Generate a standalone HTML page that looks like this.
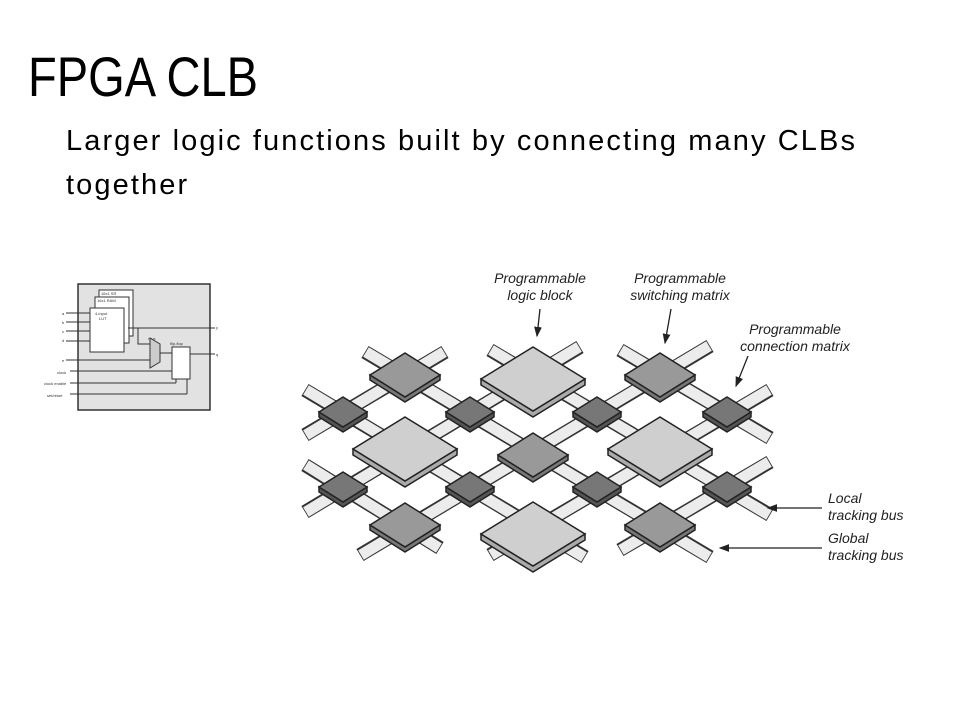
<!DOCTYPE html>
<html><head><meta charset="utf-8"><style>
body{margin:0;width:960px;height:720px;background:#fff;overflow:hidden;font-family:"Liberation Sans",sans-serif;position:relative}
.t{position:absolute;left:28px;top:44px;font-size:56px;color:#000;transform:scaleX(0.84);transform-origin:0 0}
.s{position:absolute;left:66px;top:119px;font-size:29px;line-height:44px;color:#000;letter-spacing:2.1px}
.l{position:absolute;font-size:14px;color:#222;line-height:17px;font-style:italic}
</style></head><body>
<div class="t">FPGA CLB</div>
<div class="s">Larger logic functions built by connecting many CLBs<br>together</div>
<svg width="960" height="720" style="position:absolute;left:0;top:0">
<defs>
<marker id="ar" markerWidth="8" markerHeight="8" refX="7" refY="4" orient="auto"><path d="M0,1 L8,4 L0,7z" fill="#222"/></marker>
</defs>
<rect x="78" y="284" width="132" height="126" fill="#e2e2e2" stroke="#333" stroke-width="1.5"/>
<rect x="99" y="290" width="34" height="46" fill="#fff" stroke="#333"/>
<rect x="95" y="297" width="34" height="46" fill="#fff" stroke="#333"/>
<rect x="90" y="308" width="34" height="44" fill="#fff" stroke="#333"/>
<g font-size="4" fill="#333"><text x="101" y="295">16x1 SR</text><text x="97" y="302">16x1 RAM</text><text x="95" y="315">4-input</text><text x="99" y="320">LUT</text><text x="148" y="340">mux</text><text x="170" y="345">flip-flop</text>
<text x="62" y="315">a</text><text x="62" y="324">b</text><text x="62" y="333">c</text><text x="62" y="342">d</text><text x="62" y="362">e</text><text x="57" y="374">clock</text><text x="44" y="385">clock enable</text><text x="47" y="397">set/reset</text><text x="216" y="329">y</text><text x="216" y="356">q</text></g>
<g stroke="#333" fill="none" stroke-width="1">
<line x1="66" y1="313" x2="90" y2="313"/><line x1="66" y1="322" x2="90" y2="322"/><line x1="66" y1="331" x2="90" y2="331"/><line x1="66" y1="341" x2="90" y2="341"/>
<line x1="128" y1="328" x2="215" y2="328"/><polyline points="138,328 138,344 150,344"/>
<line x1="66" y1="360" x2="150" y2="360"/>
<path d="M150,338 L160,344 L160,362 L150,368z" fill="#ccc"/>
<line x1="160" y1="353" x2="172" y2="353"/>
<rect x="172" y="347" width="18" height="32" fill="#fff"/>
<line x1="190" y1="354" x2="215" y2="354"/>
<line x1="70" y1="371" x2="172" y2="371"/><line x1="70" y1="383" x2="176" y2="383"/><polyline points="176,383 176,379"/><line x1="70" y1="394" x2="187" y2="394"/><polyline points="187,394 187,379"/>
</g>
<g stroke-linecap="butt">
<g stroke="#333" stroke-width="14">
<line x1="305" y1="435" x2="445" y2="352"/><line x1="305" y1="512" x2="580" y2="347"/><line x1="360" y1="555" x2="710" y2="346"/><line x1="490" y1="555" x2="770" y2="390"/><line x1="620" y1="550" x2="770" y2="462"/>
<line x1="305" y1="390" x2="585" y2="557"/><line x1="365" y1="352" x2="710" y2="557"/><line x1="490" y1="350" x2="770" y2="515"/><line x1="620" y1="350" x2="770" y2="438"/><line x1="305" y1="465" x2="440" y2="548"/>
</g>
<g stroke="#ececec" stroke-width="11">
<line x1="306" y1="435" x2="444" y2="352"/><line x1="306" y1="512" x2="579" y2="347"/><line x1="361" y1="555" x2="709" y2="346"/><line x1="491" y1="555" x2="769" y2="390"/><line x1="621" y1="550" x2="769" y2="462"/>
<line x1="306" y1="390" x2="584" y2="557"/><line x1="366" y1="352" x2="709" y2="557"/><line x1="491" y1="350" x2="769" y2="515"/><line x1="621" y1="350" x2="769" y2="438"/><line x1="306" y1="465" x2="439" y2="548"/>
</g></g>
<g stroke="#222" stroke-width="1.5">
<g fill="#aaa"><path d="M481,379 L533,411 L585,379 L585,385 L533,417 L481,385z"/><path d="M353,449 L405,481 L457,449 L457,455 L405,487 L353,455z"/><path d="M608,449 L660,481 L712,449 L712,455 L660,487 L608,455z"/><path d="M481,534 L533,566 L585,534 L585,540 L533,572 L481,540z"/></g>
<g fill="#cfcfcf"><path d="M533,347 L585,379 L533,411 L481,379z"/><path d="M405,417 L457,449 L405,481 L353,449z"/><path d="M660,417 L712,449 L660,481 L608,449z"/><path d="M533,502 L585,534 L533,566 L481,534z"/></g>
<g fill="#777"><path d="M370,375 L405,397 L440,375 L440,380 L405,402 L370,380z"/><path d="M625,375 L660,397 L695,375 L695,380 L660,402 L625,380z"/><path d="M498,455 L533,477 L568,455 L568,460 L533,482 L498,460z"/><path d="M370,525 L405,547 L440,525 L440,530 L405,552 L370,530z"/><path d="M625,525 L660,547 L695,525 L695,530 L660,552 L625,530z"/></g>
<g fill="#999"><path d="M405,353 L440,375 L405,397 L370,375z"/><path d="M660,353 L695,375 L660,397 L625,375z"/><path d="M533,433 L568,455 L533,477 L498,455z"/><path d="M405,503 L440,525 L405,547 L370,525z"/><path d="M660,503 L695,525 L660,547 L625,525z"/></g>
<g fill="#555"><path d="M319,412 L343,427 L367,412 L367,417 L343,432 L319,417z"/><path d="M446,412 L470,427 L494,412 L494,417 L470,432 L446,417z"/><path d="M573,412 L597,427 L621,412 L621,417 L597,432 L573,417z"/><path d="M703,412 L727,427 L751,412 L751,417 L727,432 L703,417z"/><path d="M319,487 L343,502 L367,487 L367,492 L343,507 L319,492z"/><path d="M446,487 L470,502 L494,487 L494,492 L470,507 L446,492z"/><path d="M573,487 L597,502 L621,487 L621,492 L597,507 L573,492z"/><path d="M703,487 L727,502 L751,487 L751,492 L727,507 L703,492z"/></g>
<g fill="#777"><path d="M343,397 L367,412 L343,427 L319,412z"/><path d="M470,397 L494,412 L470,427 L446,412z"/><path d="M597,397 L621,412 L597,427 L573,412z"/><path d="M727,397 L751,412 L727,427 L703,412z"/><path d="M343,472 L367,487 L343,502 L319,487z"/><path d="M470,472 L494,487 L470,502 L446,487z"/><path d="M597,472 L621,487 L597,502 L573,487z"/><path d="M727,472 L751,487 L727,502 L703,487z"/></g>
</g>
<g stroke="#222" stroke-width="1.3" marker-end="url(#ar)">
<line x1="540" y1="309" x2="537" y2="336"/>
<line x1="671" y1="309" x2="665" y2="343"/>
<line x1="748" y1="356" x2="736" y2="386"/>
<line x1="822" y1="508" x2="768" y2="508"/>
<line x1="822" y1="548" x2="720" y2="548"/>
</g>
</svg>
<div class="l" style="left:488px;top:270px;text-align:center;width:104px">Programmable<br>logic block</div>
<div class="l" style="left:620px;top:270px;text-align:center;width:120px">Programmable<br>switching matrix</div>
<div class="l" style="left:730px;top:321px;text-align:center;width:130px">Programmable<br>connection matrix</div>
<div class="l" style="left:828px;top:490px">Local<br>tracking bus</div>
<div class="l" style="left:828px;top:530px">Global<br>tracking bus</div>
</body></html>
